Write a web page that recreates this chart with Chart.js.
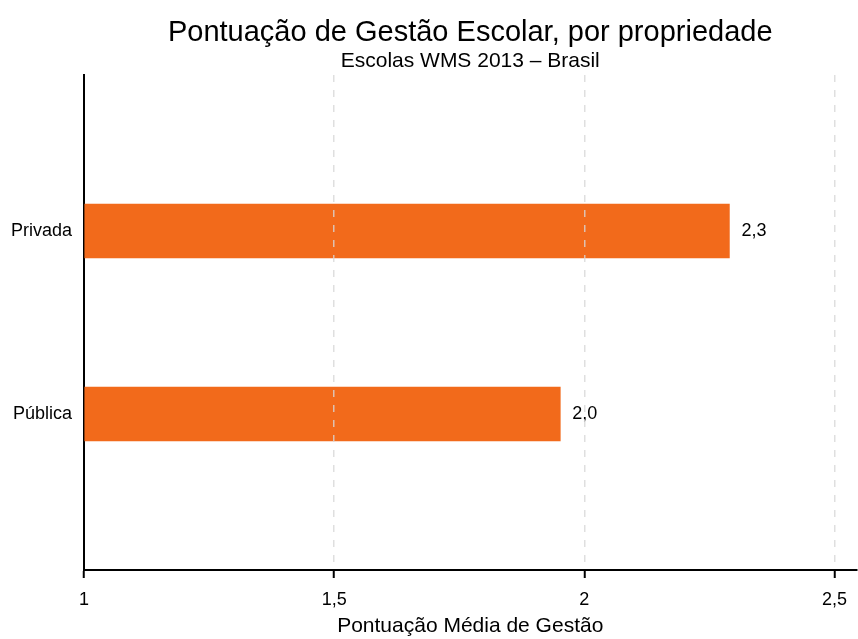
<!DOCTYPE html>
<html>
<head>
<meta charset="utf-8">
<script src="https://cdn.jsdelivr.net/npm/chart.js@4.4.1/dist/chart.umd.min.js"></script>
<style>
    body { margin: 0; background: #fff; }
    #wrap { width: 858px; height: 639px; position: relative; }
</style>
</head>
<body>
<div id="wrap"><canvas id="mgmtChart"></canvas></div>
<script>
// Data
const categories = ['Privada', 'Pública'];
const scores = [2.29, 1.952];
const xTicks = [1, 1.5, 2, 2.5];
const titleText = 'Pontuação de Gestão Escolar, por propriedade';
const subtitleText = 'Escolas WMS 2013 – Brasil';
const axisTitle = 'Pontuação Média de Gestão';

const FONT = "'Liberation Sans', Arial, sans-serif";

// format numbers with a decimal comma
function fmt(v, digits) {
    const s = digits === undefined ? String(v) : v.toFixed(digits);
    return s.replace('.', ',');
}

// Title/subtitle centred over the plot area and value labels at the bar ends
const decorations = {
    id: 'decorations',
    afterDatasetsDraw(chart) {
        const { ctx, chartArea } = chart;
        const cx = (chartArea.left + chartArea.right) / 2;
        ctx.save();
        ctx.fillStyle = '#000';
        ctx.textAlign = 'center';
        ctx.textBaseline = 'alphabetic';
        ctx.font = '29px ' + FONT;
        ctx.fillText(titleText, cx, 41);
        ctx.font = '21px ' + FONT;
        ctx.fillText(subtitleText, cx, 67);

        const meta = chart.getDatasetMeta(0);
        ctx.font = '18px ' + FONT;
        ctx.textAlign = 'left';
        ctx.textBaseline = 'middle';
        meta.data.forEach((bar, i) => {
            ctx.fillText(fmt(scores[i], 1), bar.x + 12, bar.y);
        });
        ctx.restore();
    }
};

const ctx = document.getElementById('mgmtChart').getContext('2d');
new Chart(ctx, {
    type: 'bar',
    data: {
        datasets: [{
            label: 'Pontuação',
            data: scores.map((v, i) => ({ x: v, y: i })),
            backgroundColor: '#f26a1b',
            borderWidth: 0,
            barThickness: 54,
            base: 1
        }]
    },
    options: {
        indexAxis: 'y',
        responsive: true,
        maintainAspectRatio: false,
        animation: false,
        layout: { padding: { top: 75, right: 1, left: 0, bottom: 0 } },
        plugins: {
            legend: { display: false },
            tooltip: { enabled: false }
        },
        scales: {
            x: {
                type: 'linear',
                min: 1,
                max: 2.544,
                afterBuildTicks: (scale) => {
                    scale.ticks = xTicks.map(v => ({ value: v }));
                },
                afterFit: (scale) => { scale.height = 69; },
                grid: {
                    z: 1,
                    // gridlines sit on top of the bars, none at x = 1 (y axis)
                    color: (c) => (c.tick && c.tick.value === 1) ? 'rgba(0,0,0,0)' : 'rgba(215,215,215,0.8)',
                    lineWidth: 1.5,
                    tickColor: '#000',
                    tickWidth: 2,
                    tickLength: 8,
                    tickBorderDash: []
                },
                border: { color: '#000', width: 2, dash: [7, 8], z: 1 },
                ticks: {
                    color: '#000',
                    padding: 11,
                    font: { family: FONT, size: 18 },
                    callback: (v) => fmt(v)
                },
                title: {
                    display: true,
                    text: axisTitle,
                    color: '#000',
                    font: { family: FONT, size: 21 },
                    padding: { top: 4, bottom: 0 }
                }
            },
            y: {
                type: 'linear',
                offset: false,
                reverse: true,
                min: -0.852,
                max: 1.852,
                afterBuildTicks: (scale) => {
                    scale.ticks = categories.map((c, i) => ({ value: i }));
                },
                afterFit: (scale) => { scale.width = 84; },
                grid: { display: false, drawTicks: false },
                border: { color: '#000', width: 2 },
                ticks: {
                    color: '#000',
                    padding: 12,
                    font: { family: FONT, size: 18 },
                    callback: (v) => categories[v]
                }
            }
        }
    },
    plugins: [decorations]
});
</script>
</body>
</html>
